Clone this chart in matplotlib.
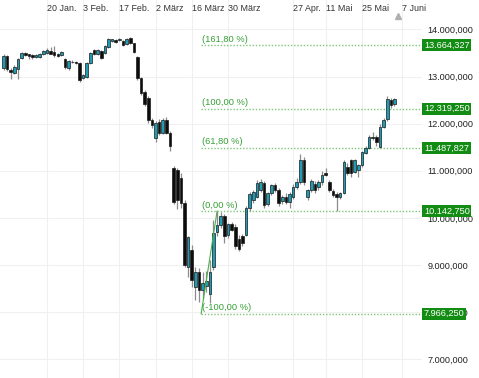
import matplotlib
matplotlib.use("Agg")
import matplotlib.pyplot as plt
import matplotlib.transforms as mtransforms
import numpy as np

plt.rcParams['font.family'] = ['Liberation Sans', 'DejaVu Sans']

# ---- daily OHLC values (index points) ----
opens = [13180, 13440, 13150, 13080, 13160, 13400, 13500, 13470, 13450, 13420,
         13420, 13470, 13500, 13550, 13520, 13480, 13450, 13370, 13180, 13300,
         13320, 13280, 12970, 13000, 13290, 13560, 13480, 13550, 13500, 13630,
         13760, 13770, 13770, 13750, 13690, 13820, 13710, 13420, 12970, 12670,
         12550, 12070, 11700, 12040, 11800, 12080, 11800, 11060, 11020, 10850,
         10320, 8960, 9320, 8530, 8850, 8470, 8560, 8380, 8960, 9700,
         9840, 10050, 9640, 9880, 9800, 9550, 9620, 9640, 10200, 10380,
         10450, 10600, 10740, 10300, 10520, 10700, 10600, 10360, 10440, 10340,
         10440, 10660, 10760, 11230, 10440, 10600, 10720, 10650, 10760, 10960,
         10760, 10580, 10500, 10440, 10530, 11080, 11220, 10980, 11020, 11120,
         11380, 11490, 11720, 11720, 11510, 11930, 12100, 12500, 12420]
highs = [13470, 13460, 13180, 13240, 13400, 13530, 13530, 13490, 13470, 13470,
         13500, 13560, 13600, 13630, 13640, 13500, 13540, 13390, 13360, 13350,
         13340, 13300, 13050, 13310, 13520, 13580, 13590, 13570, 13670, 13810,
         13800, 13790, 13820, 13770, 13810, 13850, 13720, 13440, 13000, 12720,
         12580, 12120, 12050, 12100, 12120, 12150, 11840, 11100, 11060, 10950,
         10380, 9620, 9420, 8950, 8930, 8850, 8880, 9110, 9960, 10142.75,
         10120, 10080, 9900, 9920, 9860, 9640, 9660, 10250, 10550, 10600,
         10800, 10820, 10780, 10550, 10720, 10750, 10640, 10480, 10520, 10550,
         10720, 10850, 11350, 11300, 10620, 10820, 10780, 10800, 11000, 11050,
         10800, 10620, 10550, 10550, 11220, 11170, 11260, 11250, 11140, 11420,
         11520, 11750, 11820, 11760, 12000, 12120, 12580, 12550, 12550]
lows = [13150, 13120, 12950, 13060, 12950, 13380, 13440, 13380, 13370, 13400,
        13400, 13450, 13480, 13470, 13420, 13420, 13430, 13170, 13150, 13280,
        13260, 12880, 12940, 12980, 13270, 13460, 13460, 13380, 13480, 13610,
        13740, 13710, 13750, 13650, 13670, 13690, 13500, 12930, 12600, 12380,
        12020, 11900, 11610, 11750, 11780, 11780, 11420, 10300, 10190, 10200,
        8950, 8750, 8530, 8260, 8210, 8280, 8420, 8190, 8900, 9620,
        9780, 9470, 9580, 9720, 9350, 9300, 9400, 9620, 10150, 10320,
        10420, 10560, 10220, 10250, 10480, 10550, 10250, 10300, 10300, 10220,
        10400, 10620, 10720, 10700, 10380, 10550, 10520, 10600, 10700, 10880,
        10550, 10450, 10142.75, 10400, 10500, 10920, 10870, 10950, 10870, 11080,
        11350, 11460, 11660, 11520, 11480, 11900, 12050, 12330, 12380]
closes = [13440, 13160, 13090, 13200, 13370, 13500, 13460, 13440, 13420, 13450,
          13480, 13540, 13570, 13490, 13460, 13440, 13520, 13200, 13330, 13320,
          13280, 12930, 13030, 13290, 13500, 13480, 13570, 13400, 13650, 13800,
          13790, 13730, 13800, 13670, 13800, 13710, 13520, 12970, 12650, 12420,
          12080, 11970, 12020, 11800, 12080, 11800, 11530, 10340, 10380, 10320,
          9000, 9590, 8680, 8850, 8470, 8620, 8660, 8850, 9680, 9840,
          10050, 9620, 9870, 9750, 9400, 9330, 9470, 10210, 10500, 10550,
          10740, 10760, 10270, 10520, 10700, 10600, 10320, 10450, 10340, 10500,
          10660, 10760, 11230, 10760, 10590, 10780, 10600, 10760, 10920, 10910,
          10590, 10490, 10440, 10530, 11190, 10960, 10950, 11220, 11120, 11400,
          11490, 11720, 11700, 11620, 11930, 12080, 12520, 12400, 12520]

# top date axis (bar index of each label) and right price axis
date_labels = ["20 Jan.", "3 Feb.", "17 Feb.", "2 März", "16 März", "30 März",
               "27 Apr.", "11 Mai", "25 Mai", "7 Juni"]
date_pos = [12, 22, 32, 42, 52, 62, 80, 89, 99, 110]
price_ticks = [7000, 8000, 9000, 10000, 11000, 12000, 13000, 14000]

# Fibonacci tool
fib_levels = [13664.327, 12319.250, 11487.827, 10142.750, 7966.250]
fib_names = ["(161,80 %)", "(100,00 %)", "(61,80 %)", "(0,00 %)", "(-100,00 %)"]
fib_start = 54.6
trend_x = [54.6, 59.0]
trend_y = [7966.25, 10142.75]
marker_pos = 109
marker_val = 14287


def de(v):
    s = f"{v:,.3f}"
    return s.replace(",", "X").replace(".", ",").replace("X", ".")


fig = plt.figure(figsize=(4.79, 3.78), dpi=100)
ax = fig.add_axes([0, 0, 422 / 479, 1])
xmin, xmax = -0.97, 115.6
ax.set_xlim(xmin, xmax)
ax.set_ylim(6601, 14626.3)

for s in ax.spines.values():
    s.set_visible(False)

# grid
ax.set_xticks(date_pos)
ax.set_xticklabels(date_labels)
ax.xaxis.set_ticks_position('top')
ax.tick_params(axis='x', length=0, labeltop=True, labelbottom=False,
               pad=-9.5, labelsize=6.4, labelcolor='#333333')
for lab in ax.get_xticklabels():
    lab.set_horizontalalignment('left')
ax.yaxis.tick_right()
ax.set_yticks(price_ticks)
ax.set_yticklabels([de(t) for t in price_ticks])
ax.tick_params(axis='y', length=0, pad=3.8, labelsize=6.6, labelcolor='#222222')
ax.grid(True, color='#f0f0f0', lw=0.8)
ax.set_axisbelow(True)

# candles
x = np.arange(len(opens))
o = np.array(opens, float)
c = np.array(closes, float)
h = np.array(highs, float)
l = np.array(lows, float)
up = c >= o
ax.vlines(x, l, h, color='#8c8c8c', lw=0.9, zorder=2)
body_h = np.maximum(np.abs(c - o), 10)
body_b = np.minimum(o, c)
ax.bar(x, body_h, bottom=body_b, width=0.72,
       color=np.where(up, '#1e9cb3', '#0d0d0d'),
       edgecolor='#1a1a1a', linewidth=0.5, zorder=3)

# Fibonacci levels
ax.hlines(fib_levels, fib_start, xmax, colors='#7cc87c',
          linestyles=(0, (1, 1.3)), lw=1.0, zorder=1.5)
ax.plot(trend_x, trend_y, color='#4cae4c', lw=0.8, zorder=4)
trans = mtransforms.blended_transform_factory(ax.transAxes, ax.transData)
for lvl, name in zip(fib_levels, fib_names):
    ax.annotate(name, xy=(fib_start + 0.3, lvl), xytext=(0, 1.2),
                textcoords='offset points', ha='left', va='bottom',
                color='#35a035', fontsize=6.7, zorder=5)
    ax.annotate(de(lvl), xy=(1.0, lvl), xycoords=trans, xytext=(1.4, 0),
                textcoords='offset points', ha='left', va='center',
                color='white', fontsize=6.6, zorder=6, annotation_clip=False,
                bbox=dict(boxstyle='square,pad=0.18', fc='#138c13', ec='none'))

ax.plot(marker_pos, marker_val, marker='^', color='#b0b0b0', ms=5,
        clip_on=False, zorder=6)

fig.savefig('out.png', dpi=100)
